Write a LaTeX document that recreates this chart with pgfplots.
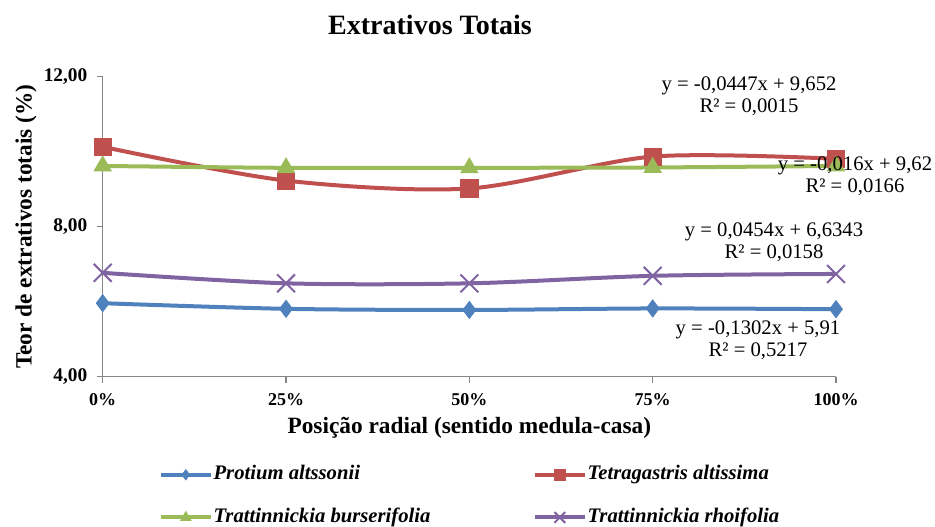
\documentclass[border=0pt]{standalone}
\usepackage{fontspec}
\setmainfont{Liberation Serif}
\usepackage{pgfplots}
\pgfplotsset{compat=1.18}
\definecolor{cblue}{HTML}{4F81BD}
\definecolor{cred}{HTML}{C0504D}
\definecolor{cgreen}{HTML}{9BBB59}
\definecolor{cpurple}{HTML}{8064A2}
\definecolor{cax}{HTML}{868686}
\begin{document}
\begin{tikzpicture}
\useasboundingbox (0,0) rectangle (701.25pt,394.5pt);
\begin{axis}[
  at={(77.025pt,111.975pt)}, anchor=south west,
  scale only axis, width=549.975pt, height=225pt,
  xmin=0, xmax=100, ymin=4, ymax=12,
  xtick={0,25,50,75,100}, xticklabels={0\%,25\%,50\%,75\%,100\%},
  ytick={4,8,12}, yticklabels={{4,00},{8,00},{12,00}},
  axis x line*=bottom, axis y line*=left,
  axis line style={cax, line width=0.9pt, -},
  tick style={cax, line width=0.9pt},
  tick align=outside, major tick length=4.5pt,
  clip=false,
  xticklabel style={font=\bfseries\fontsize{13.5}{15}\selectfont, yshift=-4.5pt},
  yticklabel style={font=\bfseries\fontsize{14.5}{16}\selectfont, xshift=-3.5pt},
  xlabel={Posição radial (sentido medula-casa)},
  ylabel={Teor de extrativos totais (\%)},
  label style={font=\bfseries\fontsize{17.5}{20}\selectfont},
  xlabel style={at={(axis description cs:0.5,-0.172)}, anchor=center},
  ylabel style={at={(axis description cs:-0.1046,0.5)}, anchor=center, rotate=0},
  legend columns=2,
  legend cell align=left,
  legend style={at={(axis description cs:0.0768,-0.398)}, anchor=west, draw=none, fill=none,
    font=\bfseries\itshape\fontsize{15.5}{18}\selectfont, row sep=15.5pt, column sep=0pt, inner sep=0pt,
    nodes={inner sep=1pt, text height=11pt, text depth=3.5pt}},
  legend image code/.code={\draw[mark repeat=2,mark phase=2,#1, every mark/.append style={scale=0.6}] plot coordinates {(0pt,0pt) (18.4pt,0pt) (36.75pt,0pt)};},
  every axis plot/.append style={line width=3pt, smooth, tension=0.5},
]
\addplot[cblue, mark=diamond*, mark size=6.5pt, mark options={fill=cblue, draw=cblue, line width=0.5pt}]
  coordinates {(0,5.96) (25,5.81) (50,5.78) (75,5.82) (100,5.80)};
\addlegendentry{\makebox[238.75pt][l]{Protium altssonii}}
\addplot[cred, mark=square*, mark size=6.5pt, mark options={fill=cred, draw=cred, line width=0.5pt}]
  coordinates {(0,10.13) (25,9.23) (50,9.02) (75,9.87) (100,9.81)};
\addlegendentry{Tetragastris altissima}
\addplot[cgreen, mark=triangle*, mark size=7.5pt, mark options={fill=cgreen, draw=cgreen, line width=0.5pt}]
  coordinates {(0,9.62) (25,9.57) (50,9.57) (75,9.58) (100,9.62)};
\addlegendentry{\makebox[238.75pt][l]{Trattinnickia burserifolia}}
\addplot[cpurple, mark=x, mark size=9.5pt, mark options={draw=cpurple, line width=1.5pt}]
  coordinates {(0,6.77) (25,6.49) (50,6.49) (75,6.69) (100,6.74)};
\addlegendentry{Trattinnickia rhoifolia}
\end{axis}
\begin{scope}[x=0.75pt,y=-0.75pt,yshift=394.5pt]
\node[font=\bfseries\fontsize{21}{24}\selectfont] at (430,25) {Extrativos Totais};
\tikzset{eq/.style={font=\fontsize{15.5}{16.5}\selectfont, align=center, inner sep=0pt}}
\node[eq] at (749,96.5) {y = -0,0447x + 9,652\\R² = 0,0015};
\node[eq] at (855,176.5) {y = -0,016x + 9,62\\R² = 0,0166};
\node[eq] at (774,242) {y = 0,0454x + 6,6343\\R² = 0,0158};
\node[eq] at (758,340) {y = -0,1302x + 5,91\\R² = 0,5217};
\end{scope}
\end{tikzpicture}
\end{document}
